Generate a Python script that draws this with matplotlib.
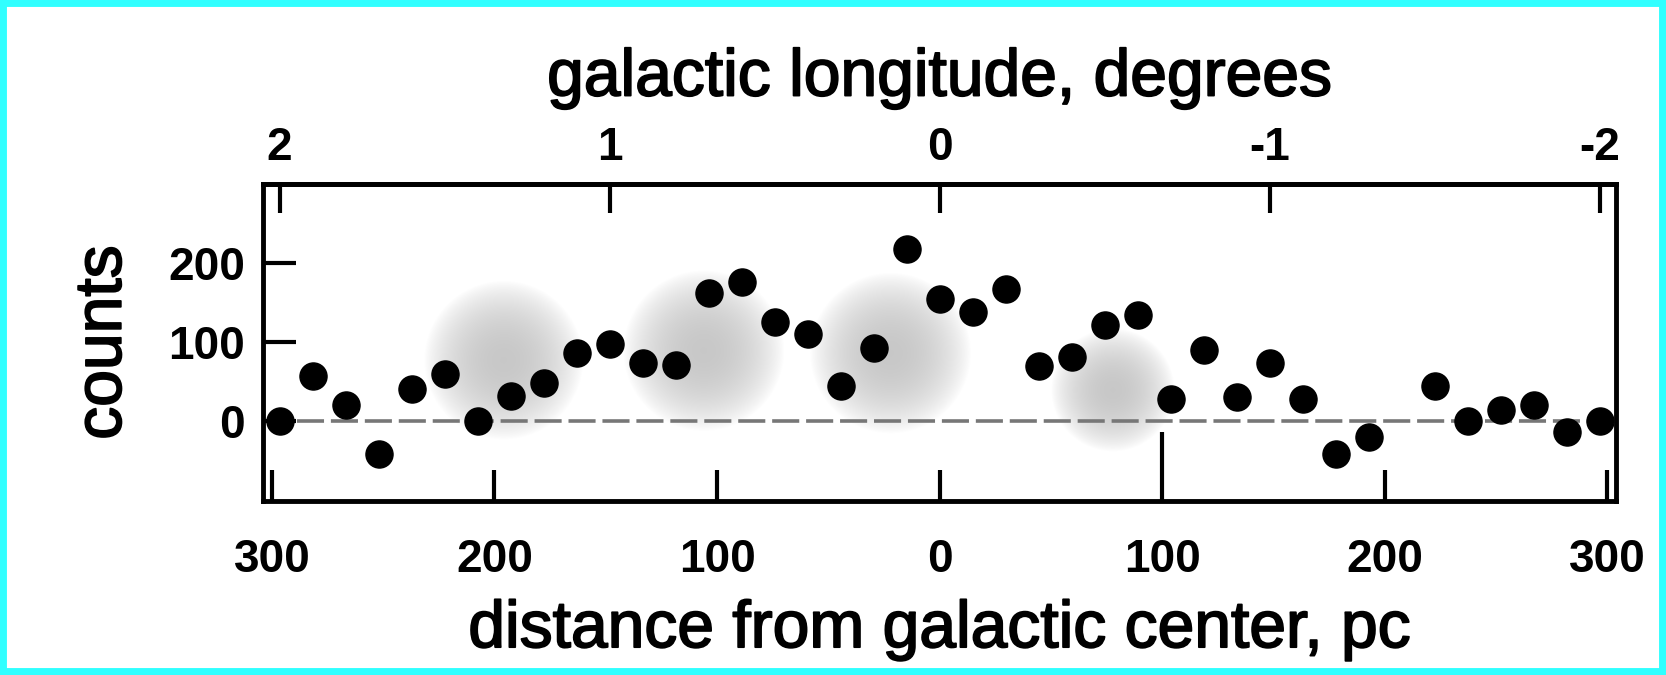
##SCATTER PLOT OF COUNTS VS GALACTIC LONGITUDE WITH SHADED CLOUDS

import matplotlib.pyplot as plt
import matplotlib.patheffects as pe
from matplotlib.patches import Rectangle
import numpy as np

#DATA
longitude = [2.0, 1.9, 1.8, 1.7, 1.6, 1.5, 1.4, 1.3, 1.2, 1.1, 1.0,
             0.9, 0.8, 0.7, 0.6, 0.5, 0.4, 0.3, 0.2, 0.1, 0.0,
             -0.1, -0.2, -0.3, -0.4, -0.5, -0.6, -0.7, -0.8, -0.9, -1.0,
             -1.1, -1.2, -1.3, -1.5, -1.6, -1.7, -1.8, -1.9, -2.0]
counts = [0, 57, 20, -42, 41, 60, 0, 31, 48, 86, 98,
          73, 71, 163, 176, 126, 110, 44, 93, 218, 155,
          138, 167, 69, 81, 122, 135, 28, 90, 30, 73,
          28, -42, -21, 44, 0, 14, 20, -14, 0]

#GRAY CLOUDS: CENTER (pc, counts) AND RADIUS IN PIXELS
cloud_x = [-196, -106, -22, 78]
cloud_y = [77, 89, 86, 39]
cloud_r = [80, 81, 81, 62]

bottom_ticks = [-300, -200, -100, 0, 100, 200, 300]
top_ticks = [2, 1, 0, -1, -2]
yticks = [0, 100, 200]

PC_PER_DEG = 148.3

#CLOSE EXISTING PLOTS
plt.close('all')

#SET PLOT PARAMS
plt.rcParams.update({'font.family': 'Liberation Sans'})
fig = plt.figure(figsize=(16.66, 6.75), dpi=100)
ax = fig.add_axes([0.1579, 0.2578, 0.9700 - 0.1579, 0.7274 - 0.2578])

xmin, xmax = -304, 304
ymin, ymax = -102, 301
ax.set_xlim(xmin, xmax)
ax.set_ylim(ymin, ymax)

#SHADED CLOUDS AS AN IMAGE BEHIND THE POINTS
ax_w = (0.9700 - 0.1579) * 1666
ax_h = (0.7274 - 0.2578) * 675
gx = np.linspace(xmin, xmax, 1000)
gy = np.linspace(ymin, ymax, 320)
X, Y = np.meshgrid(gx, gy)
dark = np.zeros_like(X)
for cx, cy, r in zip(cloud_x, cloud_y, cloud_r):
    dx = (X - cx) * ax_w / (xmax - xmin)
    dy = (Y - cy) * ax_h / (ymax - ymin)
    rr = np.sqrt(dx**2 + dy**2) / r
    d = 0.22 * np.clip(1 - rr**2, 0, 1)**0.85
    dark = np.maximum(dark, d)
img = np.zeros(X.shape + (4,))
img[..., 3] = dark
ax.imshow(img, extent=[xmin, xmax, ymin, ymax], origin='lower',
          aspect='auto', interpolation='bilinear', zorder=0)

#ZERO LINE
ax.axhline(0, color='#777777', lw=2.6, dashes=(7.5, 1.9), zorder=1)

#POINTS
x_pc = [-l * PC_PER_DEG for l in longitude]
ax.plot(x_pc, counts, 'o', color='black', markersize=19.5, zorder=3)

#BOTTOM AXIS
ax.set_xticks(bottom_ticks)
ax.set_xticklabels([str(abs(t)) for t in bottom_ticks], fontsize=33, fontweight='bold')
ax.tick_params(axis='x', direction='in', length=22, width=3, pad=27)
#ONE LONGER TICK AT +100 pc
ax.xaxis.get_major_ticks()[4].tick1line.set_markersize(50)

ax.set_yticks(yticks)
ax.set_yticklabels([str(t) for t in yticks], fontsize=33, fontweight='bold')
ax.tick_params(axis='y', direction='in', length=24, width=3, pad=13)

#LABEL STYLE, A LITTLE HEAVIER THAN REGULAR
heavy = [pe.withStroke(linewidth=1.3, foreground='black')]

#TOP AXIS IN DEGREES
sec = ax.secondary_xaxis('top', functions=(lambda x: -x / PC_PER_DEG,
                                           lambda d: -d * PC_PER_DEG))
sec.set_xticks(top_ticks)
sec.set_xticklabels([str(t) for t in top_ticks], fontsize=33, fontweight='bold')
sec.tick_params(axis='x', direction='in', length=21, width=3, pad=10)
sec.spines['top'].set_linewidth(3.5)
sec.set_xlabel('galactic longitude, degrees', fontsize=47.5, labelpad=22,
               path_effects=heavy)

#ADD BORDER LINES FOR AXES
for axis in ['top', 'bottom', 'left', 'right']:
    ax.spines[axis].set_linewidth(3.5)

ax.set_xlabel('distance from galactic center, pc', fontsize=47.5, labelpad=12,
              path_effects=heavy)
ax.set_ylabel('counts', fontsize=47.5, labelpad=24, path_effects=heavy)

#CYAN FRAME AROUND FIGURE
fig.patches.append(Rectangle((0, 0), 1, 1, transform=fig.transFigure,
                             fill=False, edgecolor='#30FFFF', lw=10))

plt.savefig('out.png', dpi=100)
